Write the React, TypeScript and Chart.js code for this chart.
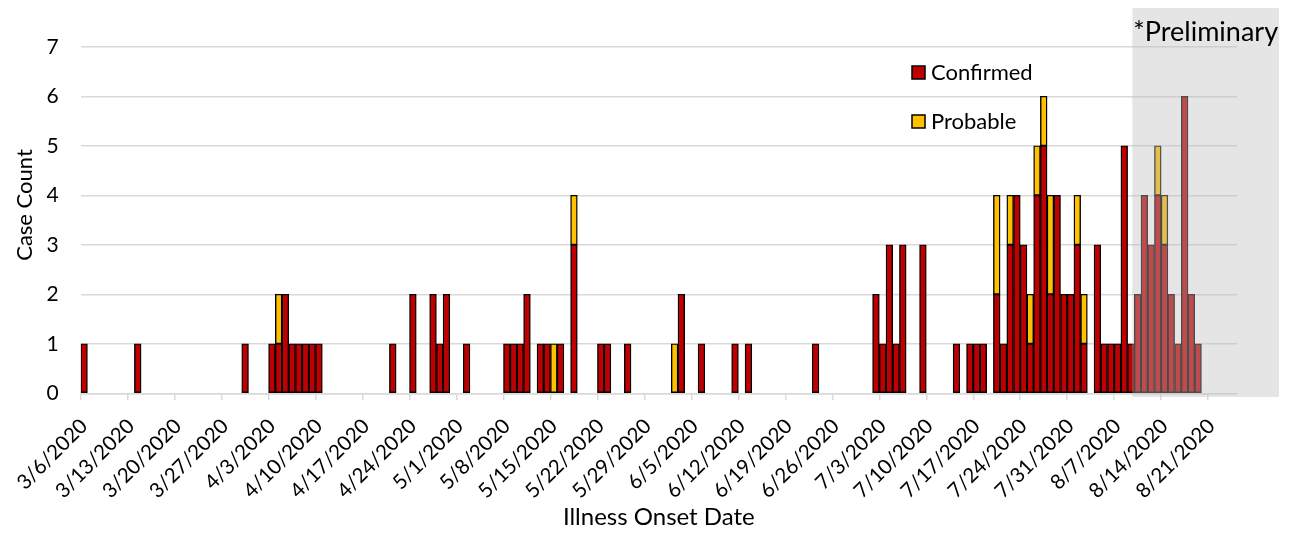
import React, { useEffect, useRef } from "react";
import { Chart, registerables } from "chart.js";

Chart.register(...registerables);

// ---- Data ----
const onsetDates: string[] = [
  "3/6/2020", "3/14/2020", "3/30/2020",
  "4/3/2020", "4/4/2020", "4/5/2020", "4/6/2020", "4/7/2020", "4/8/2020", "4/9/2020", "4/10/2020",
  "4/21/2020", "4/24/2020", "4/27/2020", "4/28/2020", "4/29/2020",
  "5/2/2020", "5/8/2020", "5/9/2020", "5/10/2020", "5/11/2020", "5/13/2020", "5/14/2020", "5/15/2020",
  "5/16/2020", "5/18/2020", "5/22/2020", "5/23/2020", "5/26/2020",
  "6/2/2020", "6/3/2020", "6/6/2020", "6/11/2020", "6/13/2020", "6/23/2020",
  "7/2/2020", "7/3/2020", "7/4/2020", "7/5/2020", "7/6/2020", "7/9/2020",
  "7/14/2020", "7/16/2020", "7/17/2020", "7/18/2020",
  "7/20/2020", "7/21/2020", "7/22/2020", "7/23/2020", "7/24/2020", "7/25/2020", "7/26/2020",
  "7/27/2020", "7/28/2020", "7/29/2020", "7/30/2020", "7/31/2020", "8/1/2020", "8/2/2020",
  "8/4/2020", "8/5/2020", "8/6/2020", "8/7/2020", "8/8/2020", "8/9/2020",
  "8/10/2020", "8/11/2020", "8/12/2020", "8/13/2020", "8/14/2020", "8/15/2020",
  "8/16/2020", "8/17/2020", "8/18/2020", "8/19/2020",
];

const confirmedCounts: number[] = [
  1, 1, 1,
  1, 1, 2, 1, 1, 1, 1, 1,
  1, 2, 2, 1, 2,
  1, 1, 1, 1, 2, 1, 1, 0,
  1, 3, 1, 1, 1,
  0, 2, 1, 1, 1, 1,
  2, 1, 3, 1, 3, 3,
  1, 1, 1, 1,
  2, 1, 3, 4, 3, 1, 4,
  5, 2, 4, 2, 2, 3, 1,
  3, 1, 1, 1, 5, 1,
  2, 4, 3, 4, 3, 2,
  1, 6, 2, 1,
];

const probableCounts: number[] = [
  0, 0, 0,
  0, 1, 0, 0, 0, 0, 0, 0,
  0, 0, 0, 0, 0,
  0, 0, 0, 0, 0, 0, 0, 1,
  0, 1, 0, 0, 0,
  1, 0, 0, 0, 0, 0,
  0, 0, 0, 0, 0, 0,
  0, 0, 0, 0,
  2, 0, 1, 0, 0, 1, 1,
  1, 2, 0, 0, 0, 1, 1,
  0, 0, 0, 0, 0, 0,
  0, 0, 0, 1, 1, 0,
  0, 0, 0, 0,
];

const tickLabels: string[] = [
  "3/6/2020", "3/13/2020", "3/20/2020", "3/27/2020", "4/3/2020", "4/10/2020", "4/17/2020",
  "4/24/2020", "5/1/2020", "5/8/2020", "5/15/2020", "5/22/2020", "5/29/2020", "6/5/2020",
  "6/12/2020", "6/19/2020", "6/26/2020", "7/3/2020", "7/10/2020", "7/17/2020", "7/24/2020",
  "7/31/2020", "8/7/2020", "8/14/2020", "8/21/2020",
];

const axisStartDate = "3/6/2020";
const axisEndDate = "8/25/2020";
const preliminaryStartDate = "8/10/2020";
const preliminaryLabel = "*Preliminary";
const seriesNames = ["Confirmed", "Probable"];
const yTitle = "Case Count";
const xTitle = "Illness Onset Date";
const yMax = 7;

// ---- helpers ----
const toUTC = (s: string) => {
  const [m, d, y] = s.split("/").map(Number);
  return Date.UTC(y, m - 1, d);
};
const dayIndex = (s: string) => (toUTC(s) - toUTC(axisStartDate)) / 86400000;

const FONT = "Lato, 'Open Sans', sans-serif";
const RED = "#C00000";
const YELLOW = "#FFC000";
const GRID = "#D9D9D9";

const overlayPlugin = {
  id: "overlayAndLegend",
  afterDraw(chart: any) {
    const { ctx, scales } = chart;
    const x = scales.x;
    const axisY = chart.chartArea.bottom;
    ctx.save();

    // rotated date labels at the x scale's ticks
    ctx.fillStyle = "#000";
    ctx.font = `20.5px ${FONT}`;
    ctx.textAlign = "right";
    ctx.textBaseline = "alphabetic";
    x.ticks.forEach((t: any, i: number) => {
      const px = x.getPixelForValue(t.value);
      ctx.save();
      ctx.translate(px + 8, axisY + 34);
      ctx.rotate(-Math.PI / 4);
      ctx.fillText(tickLabels[i] ?? "", 0, 0);
      ctx.restore();
    });

    // preliminary shading
    const left = x.getPixelForValue(dayIndex(preliminaryStartDate)) - 2;
    ctx.fillStyle = "rgba(191,191,191,0.4)";
    ctx.fillRect(left, 8, 1279 - left, 397 - 8);
    ctx.fillStyle = "#000";
    ctx.font = `27px ${FONT}`;
    ctx.textAlign = "left";
    ctx.textBaseline = "middle";
    ctx.fillText(preliminaryLabel, left + 1, 32);

    // legend
    const items = chart.data.datasets;
    const legendTops = [66, 115];
    items.forEach((ds: any, i: number) => {
      const top = legendTops[i];
      ctx.fillStyle = ds.backgroundColor;
      ctx.fillRect(912, top, 13, 13);
      ctx.lineWidth = 1.5;
      ctx.strokeStyle = "#000";
      ctx.strokeRect(912, top, 13, 13);
      ctx.fillStyle = "#000";
      ctx.font = `22px ${FONT}`;
      ctx.textAlign = "left";
      ctx.textBaseline = "middle";
      ctx.fillText(ds.label, 931, top + 6.5);
    });

    // y axis title
    ctx.translate(25, 205);
    ctx.rotate(-Math.PI / 2);
    ctx.font = `22px ${FONT}`;
    ctx.textAlign = "center";
    ctx.textBaseline = "middle";
    ctx.fillStyle = "#000";
    ctx.fillText(yTitle, 0, 0);
    ctx.restore();
  },
};

export default function App() {
  const canvasRef = useRef<HTMLCanvasElement | null>(null);

  useEffect(() => {
    if (!canvasRef.current) return;
    const confirmedData = onsetDates
      .map((d, i) => ({ x: dayIndex(d) + 0.5, y: confirmedCounts[i] }))
      .filter((p) => p.y > 0);
    const probableData = onsetDates
      .map((d, i) => ({ x: dayIndex(d) + 0.5, y: probableCounts[i] }))
      .filter((p) => p.y > 0);

    const chart = new Chart(canvasRef.current, {
      type: "bar",
      data: {
        datasets: [
          {
            label: seriesNames[0],
            data: confirmedData,
            backgroundColor: RED,
            borderColor: "#000",
            borderWidth: 1.4,
            borderSkipped: false,
            barPercentage: 1,
            categoryPercentage: 1,
          },
          {
            label: seriesNames[1],
            data: probableData,
            backgroundColor: YELLOW,
            borderColor: "#000",
            borderWidth: 1.4,
            borderSkipped: false,
            barPercentage: 1,
            categoryPercentage: 1,
          },
        ],
      },
      options: {
        animation: false,
        responsive: true,
        maintainAspectRatio: false,
        layout: { padding: { top: 46.8, right: 56, bottom: 0, left: 0 } },
        plugins: {
          legend: { display: false },
          tooltip: { enabled: false },
        },
        scales: {
          x: {
            type: "linear",
            stacked: true,
            offset: false,
            min: 0,
            max: dayIndex(axisEndDate) + 0.3,
            afterBuildTicks: (s: any) => {
              s.ticks = tickLabels.map((l) => ({ value: dayIndex(l) }));
            },
            afterFit: (s: any) => {
              s.height = 535 - 393.3;
            },
            ticks: {
              display: false,
              autoSkip: false,
            },
            grid: {
              display: true,
              offset: false,
              drawOnChartArea: false,
              drawTicks: true,
              tickLength: 7,
              color: GRID,
              lineWidth: 1.5,
            },
            border: { display: true, color: GRID, width: 1.5 },
            title: {
              display: true,
              text: xTitle,
              color: "#000",
              font: { family: FONT, size: 24 },
              padding: { top: 0, bottom: 3 },
            },
          },
          y: {
            stacked: true,
            min: 0,
            max: yMax,
            afterFit: (s: any) => {
              s.width = 80.7;
            },
            ticks: {
              stepSize: 1,
              padding: 22,
              color: "#000",
              font: { family: FONT, size: 21 },
            },
            grid: {
              color: GRID,
              lineWidth: 1.5,
              drawTicks: false,
            },
            border: { display: false },
          },
        },
      },
      plugins: [overlayPlugin],
    });
    return () => chart.destroy();
  }, []);

  return (
    <div style={{ position: "fixed", left: 0, top: 0, width: 1293, height: 535, background: "#fff" }}>
      <canvas ref={canvasRef} />
    </div>
  );
}
